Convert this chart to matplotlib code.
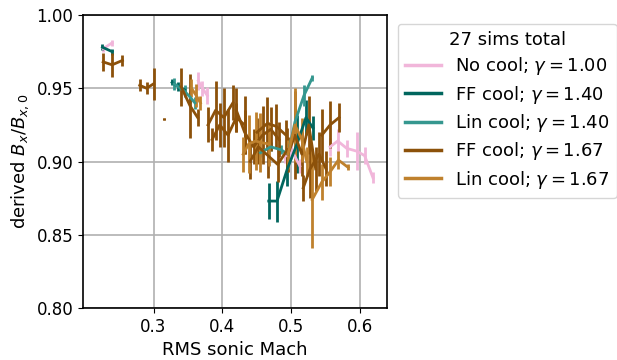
import matplotlib
matplotlib.use("Agg")
import matplotlib.pyplot as plt
from matplotlib.lines import Line2D

# ---- data ----
labels = ["No cool; $\\gamma=1.00$", "FF cool; $\\gamma=1.40$", "Lin cool; $\\gamma=1.40$",
          "FF cool; $\\gamma=1.67$", "Lin cool; $\\gamma=1.67$"]
colors = ["#f1b6da", "#01665e", "#35978f", "#8c510a", "#bf812d"]
legend_title = "27 sims total"

# No cool, gamma 1.00
nc_x = [[0.227, 0.240], [0.365, 0.371, 0.378], [0.490, 0.500, 0.512],
        [0.556, 0.567, 0.580, 0.595, 0.606, 0.618]]
nc_y = [[0.977, 0.981], [0.955, 0.950, 0.945], [0.903, 0.908, 0.897],
        [0.910, 0.914, 0.909, 0.907, 0.904, 0.889]]
nc_e = [[0.002, 0.002], [0.006, 0.005, 0.006], [0.004, 0.006, 0.005],
        [0.006, 0.008, 0.006, 0.013, 0.006, 0.004]]

# FF cool, gamma 1.40
ff14_x = [[0.226, 0.240], [0.327, 0.336, 0.345],
          [0.467, 0.479, 0.494, 0.508, 0.521, 0.531]]
ff14_y = [[0.978, 0.975], [0.954, 0.951, 0.949],
          [0.873, 0.873, 0.895, 0.912, 0.930, 0.923]]
ff14_e = [[0.002, 0.002], [0.002, 0.003, 0.002],
          [0.012, 0.014, 0.012, 0.020, 0.012, 0.008]]

# Lin cool, gamma 1.40
lin14_x = [[0.330, 0.345, 0.353, 0.360],
           [0.455, 0.470, 0.485, 0.495, 0.505, 0.518, 0.530]]
lin14_y = [[0.953, 0.948, 0.944, 0.940],
           [0.906, 0.910, 0.908, 0.905, 0.927, 0.945, 0.957]]
lin14_e = [[0.004, 0.004, 0.004, 0.004],
           [0.003, 0.003, 0.003, 0.003, 0.013, 0.007, 0.002]]

# FF cool, gamma 1.67
ff167_x = [[0.227, 0.240, 0.255], [0.280, 0.290, 0.300], [0.3145, 0.3155],
           [0.340, 0.353, 0.364], [0.379, 0.390, 0.402, 0.415],
           [0.385, 0.396, 0.408, 0.420, 0.432],
           [0.420, 0.432, 0.445, 0.458, 0.470, 0.482],
           [0.440, 0.452, 0.466, 0.480, 0.494],
           [0.450, 0.465, 0.478, 0.492],
           [0.495, 0.505, 0.515, 0.525, 0.535],
           [0.544, 0.556, 0.569],
           [0.517, 0.527, 0.540, 0.550]]
ff167_y = [[0.968, 0.966, 0.969], [0.952, 0.950, 0.953], [0.929, 0.929],
           [0.951, 0.938, 0.930], [0.925, 0.935, 0.930, 0.940],
           [0.915, 0.925, 0.918, 0.930, 0.925],
           [0.935, 0.920, 0.910, 0.918, 0.922, 0.915],
           [0.900, 0.910, 0.904, 0.898, 0.908],
           [0.920, 0.926, 0.924, 0.918],
           [0.905, 0.918, 0.905, 0.925, 0.895],
           [0.918, 0.925, 0.930],
           [0.882, 0.895, 0.905, 0.895]]
ff167_e = [[0.006, 0.008, 0.004], [0.004, 0.004, 0.011], [0.0005, 0.0005],
           [0.013, 0.022, 0.006], [0.012, 0.020, 0.020, 0.012],
           [0.008, 0.015, 0.018, 0.010, 0.020],
           [0.015, 0.015, 0.012, 0.020, 0.015, 0.012],
           [0.012, 0.012, 0.015, 0.012, 0.015],
           [0.010, 0.018, 0.015, 0.010],
           [0.012, 0.030, 0.015, 0.020, 0.015],
           [0.018, 0.016, 0.010],
           [0.009, 0.020, 0.015, 0.012]]

# Lin cool, gamma 1.67
lin167_x = [[0.355, 0.362, 0.368],
            [0.430, 0.438, 0.448, 0.455, 0.467],
            [0.495, 0.505, 0.515, 0.522],
            [0.530, 0.544, 0.556, 0.568, 0.582]]
lin167_y = [[0.950, 0.945, 0.940],
            [0.905, 0.912, 0.914, 0.913, 0.912],
            [0.905, 0.925, 0.915, 0.900],
            [0.874, 0.886, 0.893, 0.901, 0.896]]
lin167_e = [[0.006, 0.008, 0.005],
            [0.012, 0.020, 0.020, 0.020, 0.015],
            [0.010, 0.025, 0.015, 0.010],
            [0.033, 0.012, 0.010, 0.006, 0.002]]

groups = [(nc_x, nc_y, nc_e), (ff14_x, ff14_y, ff14_e), (lin14_x, lin14_y, lin14_e),
          (ff167_x, ff167_y, ff167_e), (lin167_x, lin167_y, lin167_e)]

# ---- plot ----
plt.rcParams["font.size"] = 12
fig = plt.figure(figsize=(6.17, 3.60), dpi=100)
ax = fig.add_axes([0.1345, 0.1444, 0.4927, 0.8139])

for (gx, gy, ge), c in zip(groups, colors):
    for xs, ys, es in zip(gx, gy, ge):
        ax.errorbar(xs, ys, yerr=es, color=c, lw=2, elinewidth=2, capsize=0)

ax.set_xlim(0.1978, 0.6384)
ax.set_ylim(0.80, 1.00)
ax.set_xticks([0.3, 0.4, 0.5, 0.6])
ax.set_yticks([0.80, 0.85, 0.90, 0.95, 1.00])
ax.set_yticklabels([f"{v:.2f}" for v in [0.80, 0.85, 0.90, 0.95, 1.00]])
ax.grid(True, color="#b0b0b0", lw=1.2)
ax.set_axisbelow(True)
for s in ax.spines.values():
    s.set_linewidth(1.2)
ax.set_xlabel("RMS sonic Mach", fontsize=13)
ax.set_ylabel("derived $B_x/B_{x,0}$", fontsize=13)

handles = [Line2D([], [], color=c, lw=2.5) for c in colors]
ax.legend(handles, labels, title=legend_title, loc="upper left",
          bbox_to_anchor=(1.035, 0.97), borderaxespad=0, fontsize=13,
          title_fontsize=13, labelspacing=0.35)

fig.savefig("out.png", dpi=100)
